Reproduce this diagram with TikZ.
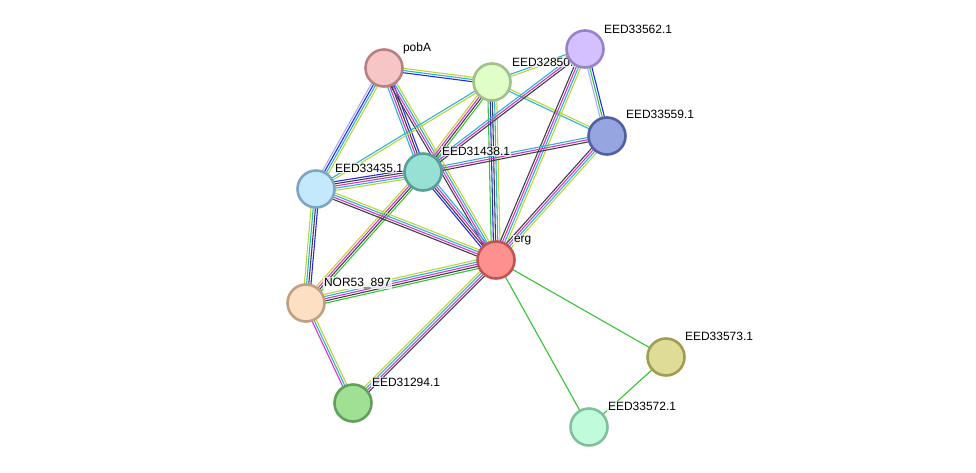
\documentclass[tikz,border=0pt]{standalone}
\usepackage{fontspec}
\setmainfont{Liberation Sans}
\usetikzlibrary{calc}
\definecolor{cG}{RGB}{52,196,52}
\definecolor{cB}{RGB}{40,40,240}
\definecolor{cK}{RGB}{64,64,64}
\definecolor{cM}{RGB}{214,50,214}
\definecolor{cC}{RGB}{40,180,214}
\definecolor{cY}{RGB}{190,212,50}
\definecolor{cL}{RGB}{170,170,250}
\definecolor{fpobA}{RGB}{246,198,198}\definecolor{dpobA}{RGB}{184,128,128}
\definecolor{fe850}{RGB}{224,255,200}\definecolor{de850}{RGB}{160,192,136}
\definecolor{fe562}{RGB}{212,192,255}\definecolor{de562}{RGB}{152,130,200}
\definecolor{fe559}{RGB}{150,164,224}\definecolor{de559}{RGB}{80,96,160}
\definecolor{fe438}{RGB}{150,224,212}\definecolor{de438}{RGB}{88,160,150}
\definecolor{fe435}{RGB}{196,232,252}\definecolor{de435}{RGB}{124,166,196}
\definecolor{ferg}{RGB}{255,144,144}\definecolor{derg}{RGB}{192,84,84}
\definecolor{fnor}{RGB}{253,224,196}\definecolor{dnor}{RGB}{192,160,128}
\definecolor{fe294}{RGB}{160,224,148}\definecolor{de294}{RGB}{96,160,88}
\definecolor{fe573}{RGB}{222,220,150}\definecolor{de573}{RGB}{160,156,80}
\definecolor{fe572}{RGB}{192,252,220}\definecolor{de572}{RGB}{128,192,156}
\newcommand\bund[3]{%
  \foreach \bcol [count=\k] in {#3} {\xdef\bn{\k}}%
  \foreach \bcol [count=\k] in {#3} {%
    \pgfmathsetmacro\off{(\k-(\bn+1)/2)*2.2}%
    \draw[line width=1.1pt, color=\bcol] ($(#1)!\off pt!90:(#2)$) -- ($(#2)!\off pt!-90:(#1)$);
  }}
\tikzset{
  prot/.style={circle, minimum size=37pt, inner sep=0pt, line width=2.6pt, fill=f#1, draw=d#1},
  lbl/.style={anchor=base west, font=\fontsize{12}{14}\selectfont, fill=white, fill opacity=0.75, text opacity=1, inner sep=0.8pt}
}
\begin{document}
\begin{tikzpicture}[x=1pt,y=-1pt]
\useasboundingbox (0,0) rectangle (976,472);
% coordinates of nodes
\coordinate (pobA) at (384,68);
\coordinate (e850) at (492,82);
\coordinate (e562) at (585,49);
\coordinate (e559) at (607,136);
\coordinate (e438) at (423,172);
\coordinate (e435) at (316,189);
\coordinate (erg) at (496,260);
\coordinate (nor) at (306,303);
\coordinate (e294) at (353,403);
\coordinate (e573) at (666,357);
\coordinate (e572) at (589,427);
% edges
\bund{pobA}{e850}{cB,cC,cY}
\bund{pobA}{e435}{cL,cB,cC,cY}
\bund{pobA}{e438}{cC,cM,cK,cB}
\bund{pobA}{erg}{cK,cM,cC,cY}
\bund{e850}{e435}{cC,cY}
\bund{e850}{e438}{cY,cM,cK,cG}
\bund{e850}{erg}{cG,cB,cK,cC,cY}
\bund{e850}{e562}{cY,cC}
\bund{e850}{e559}{cC,cY}
\bund{e562}{e438}{cC,cM,cK}
\bund{e562}{erg}{cK,cM,cC,cY}
\bund{e562}{e559}{cL,cG,cB}
\bund{e559}{e438}{cC,cM,cK}
\bund{e559}{erg}{cK,cM,cC,cY}
\bund{e438}{e435}{cB,cK,cM,cC,cY}
\bund{e438}{erg}{cB,cK,cM,cC}
\bund{e438}{nor}{cY,cM,cK,cG}
\bund{e435}{erg}{cK,cM,cC,cY}
\bund{e435}{nor}{cY,cC,cK,cB}
\bund{nor}{erg}{cG,cK,cM,cC,cY}
\bund{nor}{e294}{cM,cC,cY}
\bund{e294}{erg}{cK,cM,cC,cY}
\bund{erg}{e573}{cG}
\bund{erg}{e572}{cG}
\bund{e573}{e572}{cG}
% labels
\node[lbl] (lpobA) at ($(pobA)+(18,-17)$) {pobA};
\node[lbl] (le850) at ($(e850)+(19,-16)$) {EED32850.1};
\node[lbl] (le562) at ($(e562)+(18,-16)$) {EED33562.1};
\node[lbl] (le559) at ($(e559)+(18,-18)$) {EED33559.1};
\node[lbl] (le438) at ($(e438)+(18,-17)$) {EED31438.1};
\node[lbl] (le435) at ($(e435)+(18,-17)$) {EED33435.1};
\node[lbl] (lerg) at ($(erg)+(17,-18)$) {erg};
\node[lbl] (lnor) at ($(nor)+(17,-17)$) {NOR53\_897};
\node[lbl] (le294) at ($(e294)+(18,-17)$) {EED31294.1};
\node[lbl] (le573) at ($(e573)+(18,-17)$) {EED33573.1};
\node[lbl] (le572) at ($(e572)+(18,-17)$) {EED33572.1};
% nodes
\node[prot=pobA] (npobA) at (pobA) {};
\node[prot=e850] (ne850) at (e850) {};
\node[prot=e562] (ne562) at (e562) {};
\node[prot=e559] (ne559) at (e559) {};
\node[prot=e438] (ne438) at (e438) {};
\node[prot=e435] (ne435) at (e435) {};
\node[prot=erg] (nerg) at (erg) {};
\node[prot=nor] (nnor) at (nor) {};
\node[prot=e294] (ne294) at (e294) {};
\node[prot=e573] (ne573) at (e573) {};
\node[prot=e572] (ne572) at (e572) {};
\end{tikzpicture}
\end{document}
